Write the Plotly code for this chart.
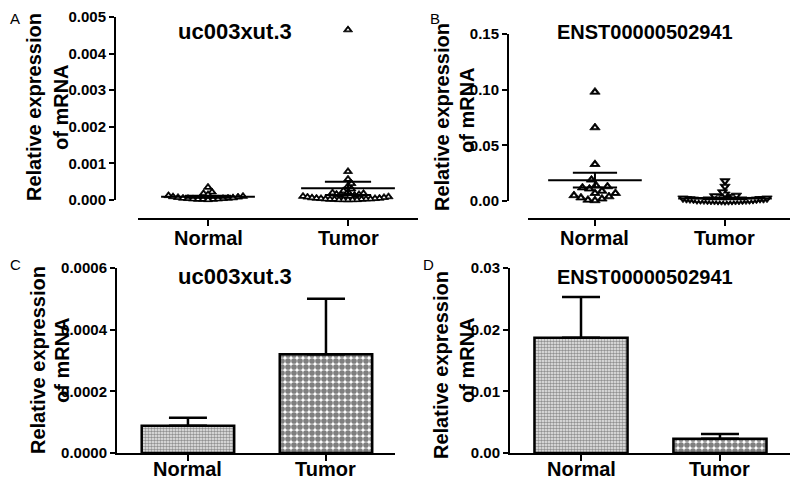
import plotly.graph_objects as go

# 数据
categories = ["Normal", "Tumor"]

a_normal = [0.00035, 0.00022, 0.00018, 0.00015, 0.00012, 0.00010, 0.00009, 0.00008, 0.00007, 0.00006,
            0.00005, 0.00005, 0.00004, 0.00004, 0.00003, 0.00003, 0.00002, 0.00002, 0.00002, 0.00001]
a_tumor = [0.00465, 0.00078, 0.00057, 0.00045, 0.00038, 0.00030, 0.00025, 0.00022, 0.00020, 0.00018,
           0.00016, 0.00015, 0.00014, 0.00013, 0.00012, 0.00011, 0.00010, 0.00009, 0.00008, 0.00007,
           0.00006, 0.00005, 0.00005, 0.00004, 0.00004, 0.00003, 0.00003, 0.00003, 0.00002, 0.00002,
           0.00002, 0.00001, 0.00001, 0.00001, 0.00001, 0.000005]
b_normal = [0.098, 0.066, 0.033, 0.019, 0.014, 0.013, 0.012, 0.011, 0.009, 0.007,
            0.007, 0.005, 0.004, 0.003, 0.002, 0.001, 0.0005]
b_tumor = [0.018, 0.013, 0.008, 0.006, 0.005, 0.0045, 0.004, 0.004, 0.0035, 0.003,
           0.003, 0.0025, 0.0025, 0.002, 0.002, 0.002, 0.0018, 0.0015, 0.0015, 0.0012,
           0.001, 0.001, 0.001, 0.0008, 0.0008, 0.0006, 0.0006, 0.0005, 0.0005, 0.0004,
           0.0004, 0.0003, 0.0003, 0.0002, 0.0002, 0.0001]

uc_mean = [0.000088, 0.00032]
uc_sem = [0.000026, 0.00018]
enst_mean = [0.0187, 0.0023]
enst_sem = [0.0066, 0.0008]

# 页面 body 默认有 8px 边距，图本身缩小并整体平移
OFF = 8
W, H = 800 - OFF, 489 - OFF
FONT = "Liberation Sans, Arial, sans-serif"


def px(x):
    return (x - OFF) / W


def py(y):
    return 1 - (y - OFF) / H


def swarm(values, x_scale, y_scale, d):
    # 简易 beeswarm，按像素避让
    order = sorted(range(len(values)), key=lambda i: values[i])
    placed = []
    offs = [0.0] * len(values)
    for n, i in enumerate(order):
        y = values[i] * y_scale
        signs = [1, -1] if n % 2 == 0 else [-1, 1]
        found = None
        for k in range(0, 400):
            for s in ([1] if k == 0 else signs):
                x = s * k * 0.5
                if all((x - a) ** 2 + (y - b) ** 2 >= d * d for a, b in placed):
                    found = x
                    break
            if found is not None:
                break
        placed.append((found, y))
        offs[i] = found / x_scale
    return offs


fig = go.Figure()

# 散点面板 A / B（黑三角 + 白芯 = 粗描边空心三角）
panels = [
    ("x", "y", a_normal, a_tumor, uc_mean, uc_sem, 140, 183 / 0.005, 0.335, 0.165,
     ["triangle-up", "triangle-up"], 8, 3, [4.6, 4.2]),
    ("x2", "y2", b_normal, b_tumor, enst_mean, enst_sem, 130, 167 / 0.15, 0.36, 0.17,
     ["triangle-up", "triangle-down"], 9, 3, [7.0, 3.2]),
]
for xa, ya, g0, g1, mean, sem, xs, ys, hw, sw, syms, msize, inner, dists in panels:
    for ci, vals in enumerate([g0, g1]):
        offs = swarm(vals, xs, ys, dists[ci])
        xv = [ci + o for o in offs]
        fig.add_trace(go.Scatter(
            x=xv, y=vals, mode="markers", xaxis=xa, yaxis=ya,
            marker=dict(symbol=syms[ci], size=msize, color="black", line=dict(width=0.8, color="black")),
            cliponaxis=False, showlegend=False,
        ))
        fig.add_trace(go.Scatter(
            x=xv, y=vals, mode="markers", xaxis=xa, yaxis=ya,
            marker=dict(symbol=syms[ci], size=inner, color="white", line=dict(width=0)),
            cliponaxis=False, showlegend=False,
        ))
        m, s = mean[ci], sem[ci]
        line = dict(color="black", width=2)
        fig.add_trace(go.Scatter(x=[ci - hw, ci + hw], y=[m, m], mode="lines", xaxis=xa, yaxis=ya,
                                 line=line, showlegend=False, cliponaxis=False))
        for v in (m + s, max(m - s, 0)):
            fig.add_trace(go.Scatter(x=[ci - sw, ci + sw], y=[v, v], mode="lines", xaxis=xa, yaxis=ya,
                                     line=line, showlegend=False, cliponaxis=False))
        fig.add_trace(go.Scatter(x=[ci, ci], y=[max(m - s, 0), m + s], mode="lines", xaxis=xa, yaxis=ya,
                                 line=line, showlegend=False, cliponaxis=False))

# 柱状面板 C / D
patterns = [dict(shape=".", size=3, solidity=0.55, fgcolor="#333", bgcolor="#eee"),
            dict(shape=".", size=6, solidity=0.7, fgcolor="black", bgcolor="white")]
for xa, ya, mean, sem in [("x3", "y3", uc_mean, uc_sem), ("x4", "y4", enst_mean, enst_sem)]:
    for ci in range(2):
        fig.add_trace(go.Bar(
            x=[ci], y=[mean[ci]], width=0.67, xaxis=xa, yaxis=ya,
            marker=dict(color="white", pattern=patterns[ci], line=dict(color="black", width=2.5)),
            error_y=dict(type="data", symmetric=False, array=[sem[ci]], arrayminus=[0],
                         color="black", thickness=2.5, width=19),
            showlegend=False,
        ))

tickfont = dict(family=FONT, size=15, color="black", weight="bold")
catfont = dict(family=FONT, size=20, color="black", weight="bold")


def yax(top, bottom, rng, dtick, fmt, pos=None, anchor=None):
    d = dict(domain=[py(bottom), py(top)], range=rng, dtick=dtick, tickformat=fmt,
             showline=True, linecolor="black", linewidth=2, ticks="outside", ticklen=5,
             tickwidth=2, tickcolor="black", showgrid=False, zeroline=False, tickfont=tickfont,
             automargin=False)
    if pos is not None:
        d.update(anchor="free", position=px(pos))
    else:
        d.update(anchor=anchor)
    return d


def xax(left, right, rng, pos=None, anchor=None):
    # 类别标签用注释放置，刻度只画短线
    d = dict(domain=[px(left), px(right)], range=rng, tickvals=[0, 1], showticklabels=False,
             showline=True, linecolor="black", linewidth=2, ticks="outside", ticklen=6,
             tickwidth=2, tickcolor="black", showgrid=False, zeroline=False, automargin=False)
    if pos is not None:
        d.update(anchor="free", position=py(pos))
    else:
        d.update(anchor=anchor)
    return d


fig.update_layout(
    width=W, height=H, margin=dict(l=0, r=0, t=0, b=0, autoexpand=False),
    paper_bgcolor="white", plot_bgcolor="white",
    font=dict(family=FONT, color="black"),
    xaxis=xax(138, 418, [-0.5, 1.5], pos=219),
    yaxis=yax(17, 200, [0, 0.005], 0.001, ".3f", pos=115),
    xaxis2=xax(528, 790, [-0.515, 1.5], pos=219),
    yaxis2=yax(34, 201, [0, 0.15], 0.05, ".2f", pos=508),
    xaxis3=xax(117, 395, [-0.514, 1.5], anchor="y3"),
    yaxis3=yax(268, 453, [0, 0.0006], 0.0002, ".4f", anchor="x3"),
    xaxis4=xax(510, 790, [-0.511, 1.504], anchor="y4"),
    yaxis4=yax(268, 453, [0, 0.03], 0.01, ".2f", anchor="x4"),
)

# 类别标签
for xref, ypx in [("x", 238), ("x2", 238), ("x3", 469), ("x4", 469)]:
    for ci, cat in enumerate(categories):
        fig.add_annotation(text=cat, x=ci, y=py(ypx), xref=xref, yref="paper",
                           xanchor="center", yanchor="middle", showarrow=False, font=catfont)

notes = [
    ("uc003xut.3", 235, 31, 22, "bold", 0), ("ENST00000502941", 645, 32, 20, "bold", 0),
    ("uc003xut.3", 235, 276, 22, "bold", 0), ("ENST00000502941", 645, 277, 20, "bold", 0),
    ("Relative expression", 34, 107, 20, "bold", -90), ("of mRNA", 61, 107, 20, "bold", -90),
    ("Relative expression", 442, 117, 20, "bold", -90), ("of mRNA", 467, 110, 20, "bold", -90),
    ("Relative expression", 38, 360, 20, "bold", -90), ("of mRNA", 62, 360, 20, "bold", -90),
    ("Relative expression", 441, 365, 20, "bold", -90), ("of mRNA", 467, 360, 20, "bold", -90),
]
for text, x, y, size, weight, ang in notes:
    fig.add_annotation(text=text, x=px(x), y=py(y), xref="paper", yref="paper",
                       xanchor="center", yanchor="middle", showarrow=False, textangle=ang,
                       font=dict(family=FONT, size=size, color="black", weight=weight))

# 面板字母（顶部对齐，避免被裁）
for text, x, y in [("A", 8, 8), ("B", 428, 8), ("C", 8, 254), ("D", 421, 254)]:
    fig.add_annotation(text=text, x=px(x), y=py(y), xref="paper", yref="paper",
                       xanchor="left", yanchor="top", showarrow=False,
                       font=dict(family=FONT, size=15, color="black"))

fig.write_html("out.html")
